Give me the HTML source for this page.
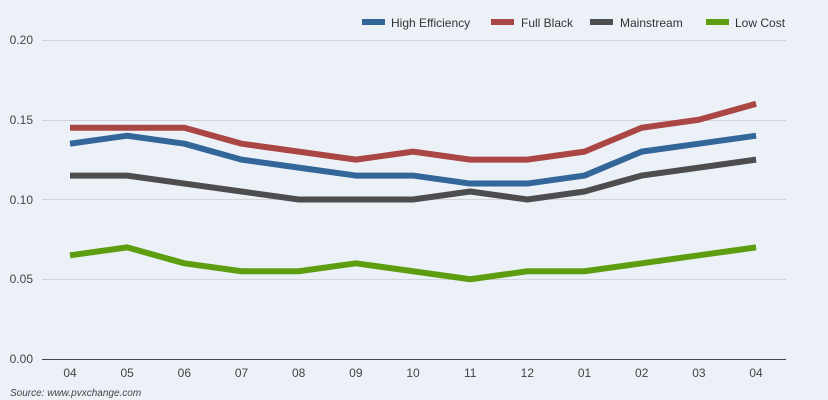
<!DOCTYPE html>
<html><head><meta charset="utf-8"><style>
body{margin:0;background:#ecf1f7;}
svg{display:block;font-family:"Liberation Sans","DejaVu Sans",sans-serif;}
</style></head><body>
<svg width="828" height="400" viewBox="0 0 828 400">
<rect width="828" height="400" fill="#ecf1f7"/>
<g stroke="#d2d5d8" stroke-width="1">
<line x1="42" x2="786" y1="40.5" y2="40.5"/>
<line x1="42" x2="786" y1="120.5" y2="120.5"/>
<line x1="42" x2="786" y1="199.5" y2="199.5"/>
<line x1="42" x2="786" y1="279.5" y2="279.5"/>
</g>
<line x1="42" x2="786" y1="359.5" y2="359.5" stroke="#444" stroke-width="1"/>
<g font-size="12" fill="#444" text-anchor="end">
<text x="33" y="44">0.20</text>
<text x="33" y="124">0.15</text>
<text x="33" y="204">0.10</text>
<text x="33" y="283">0.05</text>
<text x="33" y="363">0.00</text>
</g>
<g font-size="12" fill="#444" text-anchor="middle" id="xl"></g>
<text x="10" y="396" font-size="10" font-style="italic" fill="#444">Source: www.pvxchange.com</text>
<g font-size="12" fill="#333">
<rect x="362" y="19" width="23" height="6" fill="#336699"/><text x="391" y="27">High Efficiency</text>
<rect x="491" y="19" width="23" height="6" fill="#aa4643"/><text x="521" y="27">Full Black</text>
<rect x="590" y="19" width="23" height="6" fill="#4d4d4f"/><text x="620" y="27">Mainstream</text>
<rect x="706" y="19" width="23" height="6" fill="#5c9e0f"/><text x="735" y="27">Low Cost</text>
</g>
<g id="lines" fill="none" stroke-width="6" stroke-linejoin="round"></g>
</svg>
<script>
var labels=["04","05","06","07","08","09","10","11","12","01","02","03","04"];
var ns="http://www.w3.org/2000/svg";
function X(i){return 70+i*57.17;}
function Y(v){return 359-v*1595;}
var xl=document.getElementById("xl");
labels.forEach(function(l,i){var t=document.createElementNS(ns,"text");t.setAttribute("x",X(i));t.setAttribute("y",377);t.textContent=l;xl.appendChild(t);});
var series=[
["#aa4643",[.145,.145,.145,.135,.13,.125,.13,.125,.125,.13,.145,.15,.16]],
["#336699",[.135,.14,.135,.125,.12,.115,.115,.11,.11,.115,.13,.135,.14]],
["#4d4d4f",[.115,.115,.11,.105,.10,.10,.10,.105,.10,.105,.115,.12,.125]],
["#5c9e0f",[.065,.07,.06,.055,.055,.06,.055,.05,.055,.055,.06,.065,.07]]];
var g=document.getElementById("lines");
series.forEach(function(s){var p=document.createElementNS(ns,"polyline");p.setAttribute("stroke",s[0]);p.setAttribute("points",s[1].map(function(v,i){return X(i)+","+Y(v);}).join(" "));g.appendChild(p);});
</script>
</body></html>
